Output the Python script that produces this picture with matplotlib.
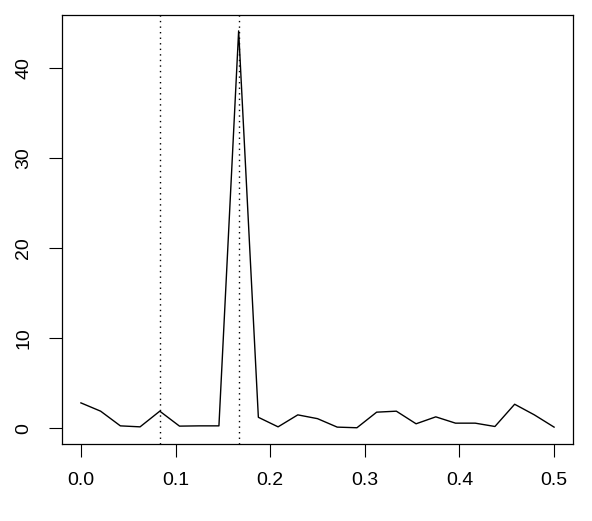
import matplotlib
matplotlib.use("Agg")
import matplotlib.pyplot as plt
import numpy as np

freq = [i / 48 for i in range(25)]
spec = [2.8, 1.88, 0.25, 0.14, 1.88, 0.22, 0.25, 0.25, 44.1, 1.2, 0.14, 1.47,
        1.05, 0.11, 0.04, 1.77, 1.88, 0.48, 1.25, 0.55, 0.55, 0.18, 2.65, 1.47, 0.11]
vlines = [1 / 12, 1 / 6]
xticks = [0.0, 0.1, 0.2, 0.3, 0.4, 0.5]
xticklabels = ["0.0", "0.1", "0.2", "0.3", "0.4", "0.5"]
yticks = [0, 10, 20, 30, 40]

plt.rcParams['font.family'] = ['Liberation Sans', 'DejaVu Sans']
fig = plt.figure(figsize=(5.92, 5.21), dpi=100)
ax = fig.add_axes([62 / 592, 1 - 444 / 521, (573 - 62) / 592, (444 - 15) / 521])
ax.plot(freq, spec, color='black', lw=1.0)
for v in vlines:
    ax.axvline(v, color='black', lw=1.0, linestyle=(0, (1, 3)))
ymax = max(spec)
ax.set_xlim(-0.02, 0.52)
ax.set_ylim(-0.04 * ymax, ymax * 1.04)
ax.set_xticks(xticks)
ax.set_xticklabels(xticklabels)
ax.set_yticks(yticks)
ax.set_yticklabels([str(t) for t in yticks], rotation=90, va='center')
ax.tick_params(axis='both', labelsize=14, length=9.5, width=0.8, color='black')
ax.tick_params(axis='x', pad=11)
ax.tick_params(axis='y', pad=12)
for s in ax.spines.values():
    s.set_linewidth(0.9)
fig.savefig("out.png", dpi=100)
